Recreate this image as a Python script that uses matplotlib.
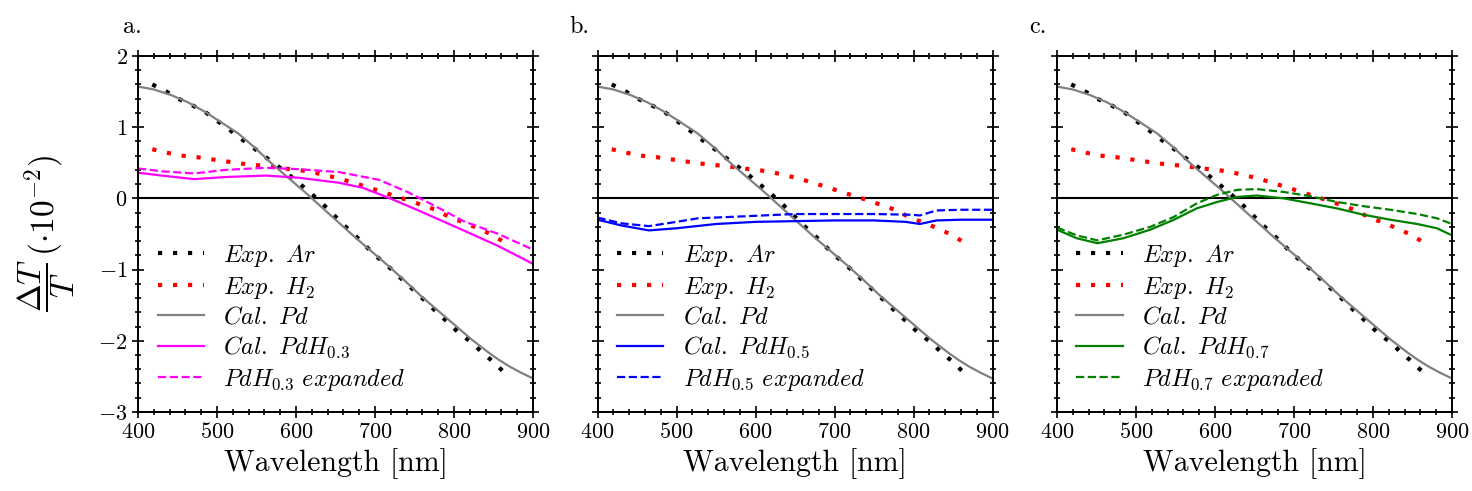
import numpy as np
import matplotlib
matplotlib.use("Agg")
import matplotlib.pyplot as plt
from matplotlib.ticker import MultipleLocator

plt.rcParams['font.family'] = 'serif'
plt.rcParams['font.serif'] = ['cmr10', 'DejaVu Serif']
plt.rcParams['mathtext.fontset'] = 'cm'
plt.rcParams['axes.formatter.use_mathtext'] = True

# --- data (wavelength in nm, dT/T in 1e-2) ---
wl_pd = [400, 420, 442, 463, 484, 505, 527, 548, 569, 590, 611, 632, 653, 674,
         695, 716, 738, 759, 780, 801, 822, 843, 857, 870, 885, 900]
cal_pd = [1.57, 1.53, 1.45, 1.35, 1.22, 1.07, 0.91, 0.71, 0.49, 0.29, 0.09,
          -0.12, -0.33, -0.54, -0.74, -0.94, -1.16, -1.38, -1.58, -1.78,
          -1.98, -2.16, -2.27, -2.36, -2.45, -2.53]

wl_ar = [418, 436, 451, 468, 484, 500, 515, 530, 545, 560, 575, 590, 604, 618,
         632, 645, 657, 671, 684, 697, 711, 725, 739, 753, 766, 780, 794, 807,
         822, 835, 849, 863]
exp_ar = [1.60, 1.50, 1.40, 1.31, 1.22, 1.09, 0.97, 0.84, 0.72, 0.59, 0.47,
          0.34, 0.21, 0.08, -0.06, -0.20, -0.34, -0.48, -0.62, -0.77, -0.90,
          -1.04, -1.19, -1.33, -1.47, -1.62, -1.76, -1.90, -2.02, -2.16,
          -2.29, -2.44]

wl_h2 = [418, 437, 455, 474, 492, 511, 529, 547, 565, 584, 602, 620, 639, 655,
         672, 690, 709, 726, 743, 761, 779, 795, 813, 830, 848, 864]
exp_h2 = [0.69, 0.64, 0.60, 0.58, 0.55, 0.52, 0.49, 0.47, 0.45, 0.42, 0.40,
          0.37, 0.32, 0.28, 0.22, 0.16, 0.09, 0.03, -0.03, -0.10, -0.17,
          -0.27, -0.34, -0.42, -0.51, -0.62]

wl_03 = [400, 430, 471, 511, 562, 603, 654, 684, 719, 755, 812, 856, 900]
cal_03 = [0.36, 0.32, 0.27, 0.30, 0.32, 0.29, 0.22, 0.15, 0.0, -0.17, -0.45,
          -0.67, -0.92]
wl_03e = [400, 430, 471, 511, 562, 603, 654, 705, 741, 757, 785, 812, 856, 900]
exp_03 = [0.42, 0.38, 0.35, 0.40, 0.43, 0.41, 0.37, 0.26, 0.09, 0.0, -0.16,
          -0.32, -0.50, -0.72]

wl_05 = [400, 430, 465, 500, 550, 600, 650, 700, 750, 790, 808, 829, 860, 900]
cal_05 = [-0.30, -0.38, -0.45, -0.42, -0.36, -0.33, -0.32, -0.31, -0.31,
          -0.33, -0.36, -0.31, -0.30, -0.30]
wl_05e = [400, 430, 465, 500, 527, 590, 649, 700, 750, 797, 808, 829, 860, 900]
exp_05 = [-0.27, -0.35, -0.39, -0.33, -0.28, -0.25, -0.22, -0.22, -0.22,
          -0.23, -0.24, -0.17, -0.16, -0.16]

wl_07 = [400, 425, 451, 484, 518, 548, 577, 603, 628, 653, 687, 721, 754, 788,
         822, 856, 881, 900]
cal_07 = [-0.44, -0.56, -0.63, -0.56, -0.44, -0.30, -0.14, -0.05, 0.02, 0.04,
          0.0, -0.07, -0.14, -0.23, -0.30, -0.36, -0.42, -0.52]
exp_07 = [-0.41, -0.52, -0.59, -0.51, -0.40, -0.26, -0.07, 0.05, 0.12, 0.13,
          0.09, 0.03, -0.05, -0.11, -0.16, -0.22, -0.28, -0.36]

panels = [
    ("a.", "0.3", "magenta", wl_03, cal_03, wl_03e, exp_03),
    ("b.", "0.5", "blue", wl_05, cal_05, wl_05e, exp_05),
    ("c.", "0.7", "green", wl_07, cal_07, wl_07, exp_07),
]
tag_x = [-0.038, -0.071, -0.071]

fig, axes = plt.subplots(1, 3, figsize=(14.72, 4.91), dpi=100)
fig.subplots_adjust(left=0.0938, right=0.9864, bottom=0.161, top=0.886, wspace=0.1633)

dots = (0, (1, 2.6))
for i, (ax, (tag, x, col, wc, yc, we, ye)) in enumerate(zip(axes, panels)):
    ax.axhline(0, color='black', lw=1.5, zorder=1)
    ax.plot(wl_ar, exp_ar, color='black', lw=3, ls=dots, label=r'$Exp.\ Ar$')
    ax.plot(wl_h2, exp_h2, color='red', lw=3, ls=dots, label=r'$Exp.\ H_2$')
    ax.plot(wl_pd, cal_pd, color='grey', lw=1.6, label=r'$Cal.\ Pd$')
    ax.plot(wc, yc, color=col, lw=1.6, label=r'$Cal.\ PdH_{%s}$' % x)
    ax.plot(we, ye, color=col, lw=1.6, ls='--', label=r'$PdH_{%s}\ expanded$' % x)

    ax.set_xlim(400, 900)
    ax.set_ylim(-3, 2)
    ax.xaxis.set_major_locator(MultipleLocator(100))
    ax.xaxis.set_minor_locator(MultipleLocator(20))
    ax.yaxis.set_major_locator(MultipleLocator(1))
    ax.yaxis.set_minor_locator(MultipleLocator(0.2))
    ax.tick_params(which='both', direction='inout', top=True, right=True,
                   labelsize=16, width=1.2)
    ax.tick_params(which='major', length=8)
    ax.tick_params(which='minor', length=5)
    for s in ax.spines.values():
        s.set_linewidth(1.4)
    if i > 0:
        ax.tick_params(labelleft=False)
    ax.set_xlabel('Wavelength [nm]', fontsize=21.5)
    ax.text(tag_x[i], 1.065, tag, transform=ax.transAxes, fontsize=17.5,
            ha='left', va='baseline')
    ax.legend(loc='lower left', frameon=False, fontsize=17.5, handlelength=1.9,
              handletextpad=0.8, labelspacing=0.25, borderaxespad=0.4)

axes[0].set_ylabel(r'$\dfrac{\Delta T}{T}\,(\cdot 10^{-2})$', fontsize=24)
axes[0].yaxis.set_label_coords(-0.155, 0.5)

fig.savefig('out.png', dpi=100)
